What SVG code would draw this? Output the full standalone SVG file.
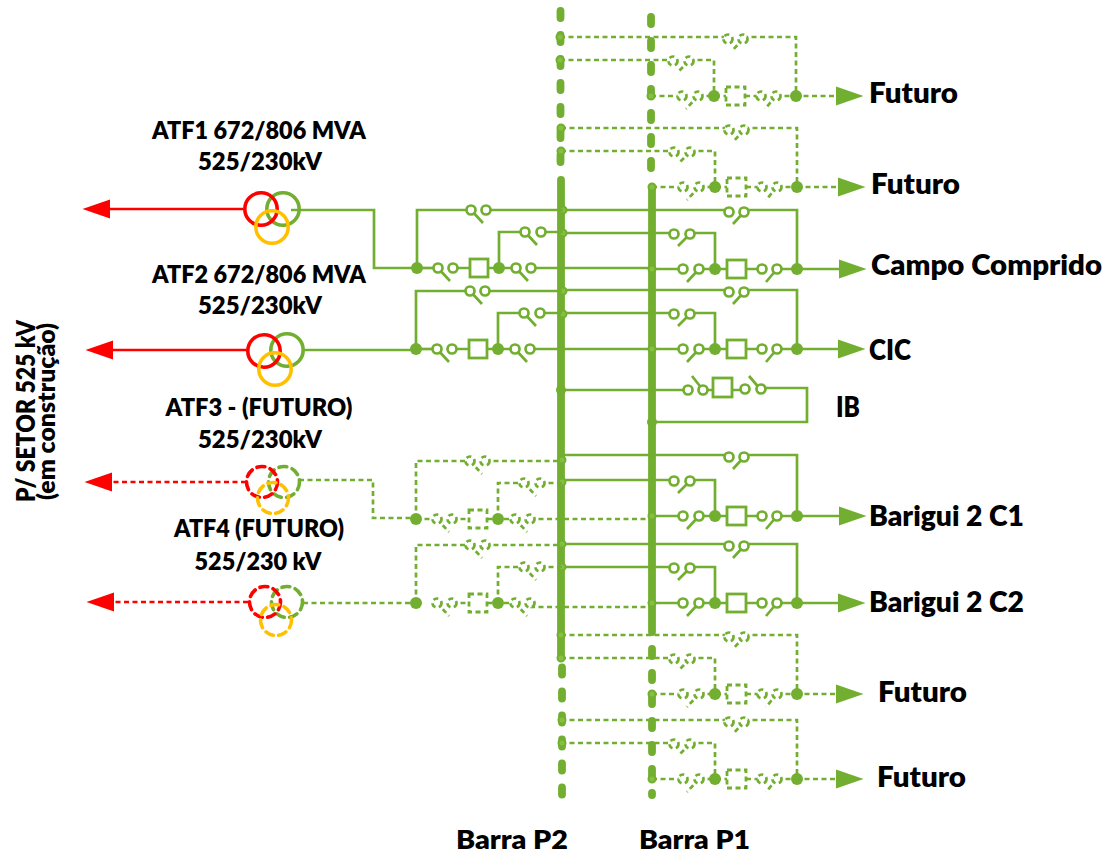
<svg xmlns="http://www.w3.org/2000/svg" width="1108" height="857" viewBox="0 0 1108 857">
<style>
.g{fill:none;stroke:#72ae30;stroke-width:2.7;stroke-linejoin:miter}
.r{fill:none;stroke:#ff0000;stroke-width:2.6}
.d{stroke-dasharray:5 3.5}
.sw{fill:#fff}
.t{fill:#fff;stroke-width:2.8}
.n{fill:#72ae30;stroke:none;stroke-dasharray:none}
.j{fill:#86c040;stroke:#72ae30;stroke-width:2;stroke-dasharray:none}
.bar{fill:none;stroke:#72ae30;stroke-width:7.8;stroke-linecap:round}
.bd{stroke-dasharray:7 17}
.c{fill:none;stroke-width:3.6}
.cr{stroke:#ff0000}.cg{stroke:#72ae30}.cy{stroke:#ffc000}
.cd{stroke-dasharray:8 5.5;stroke-linecap:round}
text{font-family:"Lato","Liberation Sans",sans-serif;font-weight:800;fill:#000}
.a{font-size:25px;text-anchor:middle}
.b{font-size:29px}
</style>
<defs>
<marker id="ag" markerUnits="userSpaceOnUse" markerWidth="30" markerHeight="22" refX="0" refY="11" orient="auto"><path d="M0 1.500L27.500 11L0 20.500Z" fill="#72ae30"/></marker>
<marker id="ar" markerUnits="userSpaceOnUse" markerWidth="30" markerHeight="22" refX="0" refY="11" orient="auto"><path d="M0 1.500L27.500 11L0 20.500Z" fill="#ff0000"/></marker>
<g id="rU"><path d="M-91-59H77M92-59H145V0M92-57L81-45"/><circle class="sw" cx="77" cy="-57" r="4.500"/><circle class="sw" cx="92" cy="-57" r="4.500"/></g>
<g id="rS"><path d="M-91-36H22M38-36H63V0M38-35L26-23"/><circle class="sw" cx="22" cy="-35" r="4.500"/><circle class="sw" cx="38" cy="-35" r="4.500"/></g>
<g id="rM"><path d="M0 0H31M47 0H75M94 0H110M125 0H145M47 0L35 13M125 0L114 13"/><circle class="sw" cx="31" cy="0" r="4.500"/><circle class="sw" cx="47" cy="0" r="4.500"/><rect class="t" x="75" y="-9" width="19" height="18"/><circle class="sw" cx="110" cy="0" r="4.500"/><circle class="sw" cx="125" cy="0" r="4.500"/><circle class="n" cx="63" cy="0" r="6"/><circle class="n" cx="145" cy="0" r="6"/></g>
<g id="lU"><path d="M0 0V-58H54M69-58H146M54-58L66-45"/><circle class="sw" cx="54" cy="-58" r="4.500"/><circle class="sw" cx="69" cy="-58" r="4.500"/></g>
<g id="lS"><path d="M82 0V-36H108M124-36H146M108-36L120-23"/><circle class="sw" cx="108" cy="-36" r="4.500"/><circle class="sw" cx="124" cy="-36" r="4.500"/></g>
<g id="lM"><path d="M36 0H53M71 0H99M21 0L33 13M99 0L111 13"/><circle class="sw" cx="21" cy="0" r="4.500"/><circle class="sw" cx="36" cy="0" r="4.500"/><rect class="t" x="53" y="-9" width="18" height="18"/><circle class="sw" cx="99" cy="0" r="4.500"/><circle class="sw" cx="114" cy="0" r="4.500"/><circle class="n" cx="0" cy="0" r="6"/><circle class="n" cx="82" cy="0" r="6"/></g>
</defs>

<g id="connectors">
<line class="bar bd" x1="560.500" y1="11" x2="560.500" y2="172"/>
<line class="bar" x1="561" y1="180" x2="561" y2="655"/>
<line class="bar bd" x1="562" y1="667.500" x2="562" y2="795"/>
<line class="bar bd" x1="651" y1="17" x2="651" y2="180"/>
<line class="bar" x1="652" y1="188" x2="652" y2="632"/>
<line class="bar bd" x1="652" y1="649" x2="652" y2="795"/>

<path class="r" d="M243 209H110" marker-end="url(#ar)"/>
<path class="r" d="M247 350H113" marker-end="url(#ar)"/>
<path class="r d" d="M246 482H112" marker-end="url(#ar)"/>
<path class="r d" d="M248 602H114" marker-end="url(#ar)"/>

<path class="g" d="M291 210H374V268H417"/>
<path class="g" d="M304 350H416"/>
<path class="g d" d="M299 480H373V518H416"/>
<path class="g d" d="M303 603H416"/>

<path class="g" d="M531 268H652M531 349H652"/>
<path class="g d" d="M530 519H652M530 607H652"/>

<path class="g" d="M797 269H839" marker-end="url(#ag)"/>
<path class="g" d="M797 349H838" marker-end="url(#ag)"/>
<path class="g" d="M798 516H839" marker-end="url(#ag)"/>
<path class="g" d="M797 603H838" marker-end="url(#ag)"/>
<path class="g d" d="M795 96H836" marker-end="url(#ag)"/>
<path class="g d" d="M797 187H838" marker-end="url(#ag)"/>
<path class="g d" d="M796 694H836" marker-end="url(#ag)"/>
<path class="g d" d="M796 779H836" marker-end="url(#ag)"/>
<path class="g" d="M561 390H688M703 390H713M732 390H745M761 388H807V422H652"/>
</g>

<g id="ATF1"><circle class="c cg" cx="283" cy="209" r="16.200"/><circle class="c cr" cx="261" cy="209" r="16.200"/><circle class="c cy" cx="272" cy="227" r="16.200"/></g>
<g id="ATF2"><circle class="c cg" cx="287" cy="350" r="16.200"/><circle class="c cr" cx="264" cy="351" r="16.200"/><circle class="c cy" cx="275" cy="369" r="16.200"/></g>
<g id="ATF3"><circle class="c cg cd" cx="284" cy="482" r="15.500"/><circle class="c cr cd" cx="262" cy="482" r="15.500"/><circle class="c cy cd" cx="273" cy="498" r="15.500"/></g>
<g id="ATF4"><circle class="c cg cd" cx="287" cy="602" r="15.500"/><circle class="c cr cd" cx="265" cy="602" r="15.500"/><circle class="c cy cd" cx="276" cy="620" r="15.500"/></g>

<g id="bay-futuro-1" class="g d" transform="translate(651 96)"><use href="#rU"/><use href="#rS"/><use href="#rM"/><circle class="j" cx="0" cy="0" r="3.500"/><circle class="j" cx="-91" cy="-59" r="3.500"/><circle class="j" cx="-91" cy="-36" r="3.500"/></g>
<g id="bay-futuro-2" class="g d" transform="translate(652 187)"><use href="#rU"/><use href="#rS"/><use href="#rM"/><circle class="j" cx="0" cy="0" r="3.500"/><circle class="j" cx="-91" cy="-59" r="3.500"/><circle class="j" cx="-91" cy="-36" r="3.500"/></g>
<g id="bay-campo-comprido" class="g" transform="translate(652 269)"><use href="#rU"/><use href="#rS"/><use href="#rM"/><circle class="j" cx="0" cy="0" r="3.500"/><circle class="j" cx="-89" cy="-59" r="3.500"/><circle class="j" cx="-89" cy="-36" r="3.500"/></g>
<g id="bay-cic" class="g" transform="translate(652 349)"><use href="#rU"/><use href="#rS"/><use href="#rM"/><circle class="j" cx="0" cy="0" r="3.500"/><circle class="j" cx="-89" cy="-58" r="3.500"/><circle class="j" cx="-89" cy="-35" r="3.500"/></g>
<g id="bay-barigui-c1" class="g" transform="translate(652 516)"><use href="#rU" y="-2"/><use href="#rS"/><use href="#rM"/><circle class="j" cx="0" cy="0" r="3.500"/><circle class="j" cx="-90" cy="-56" r="3.500"/><circle class="j" cx="-90" cy="-34" r="3.500"/></g>
<g id="bay-barigui-c2" class="g" transform="translate(652 603)"><use href="#rU"/><use href="#rS"/><use href="#rM"/><circle class="j" cx="0" cy="0" r="3.500"/><circle class="j" cx="-90" cy="-59" r="3.500"/><circle class="j" cx="-90" cy="-36" r="3.500"/></g>
<g id="bay-futuro-3" class="g d" transform="translate(652 694)"><use href="#rU"/><use href="#rS"/><use href="#rM"/><circle class="j" cx="0" cy="0" r="3.500"/><circle class="j" cx="-91" cy="-59" r="3.500"/><circle class="j" cx="-91" cy="-36" r="3.500"/></g>
<g id="bay-futuro-4" class="g d" transform="translate(652 779)"><use href="#rU"/><use href="#rS"/><use href="#rM"/><circle class="j" cx="0" cy="0" r="3.500"/><circle class="j" cx="-90" cy="-59" r="3.500"/><circle class="j" cx="-90" cy="-36" r="3.500"/></g>

<g id="bay-atf1" class="g" transform="translate(417 268)"><path d="M0 0H21"/><use href="#lU"/><use href="#lS"/><use href="#lM"/></g>
<g id="bay-atf2" class="g" transform="translate(416 349)"><path d="M0 0H21"/><use href="#lU"/><use href="#lS"/><use href="#lM"/></g>
<g id="bay-atf3" class="g d" transform="translate(416 519)"><path d="M0 0H21"/><use href="#lU"/><use href="#lS"/><use href="#lM"/></g>
<g id="bay-atf4" class="g d" transform="translate(416 603)"><use href="#lU"/><use href="#lS"/><use href="#lM"/></g>

<g id="bay-ib" class="g"><circle class="n" cx="561" cy="390" r="5"/><circle class="n" cx="652" cy="422" r="5"/><path d="M703 390L692 376M761 390L749 376"/><circle class="sw" cx="688" cy="390" r="4.500"/><circle class="sw" cx="703" cy="390" r="4.500"/><rect class="t" x="713" y="378" width="19" height="19"/><circle class="sw" cx="745" cy="389" r="4.500"/><circle class="sw" cx="761" cy="389" r="4.500"/></g>

<g id="labels">
<text class="a" x="259" y="139" textLength="214" lengthAdjust="spacingAndGlyphs">ATF1 672/806 MVA</text>
<text class="a" x="260" y="170" textLength="124" lengthAdjust="spacingAndGlyphs">525/230kV</text>
<text class="a" x="259" y="283" textLength="214" lengthAdjust="spacingAndGlyphs">ATF2 672/806 MVA</text>
<text class="a" x="260" y="314" textLength="124" lengthAdjust="spacingAndGlyphs">525/230kV</text>
<text class="a" x="259" y="416" textLength="187" lengthAdjust="spacingAndGlyphs">ATF3 - (FUTURO)</text>
<text class="a" x="260" y="448" textLength="124" lengthAdjust="spacingAndGlyphs">525/230kV</text>
<text class="a" x="259" y="537" textLength="170" lengthAdjust="spacingAndGlyphs">ATF4 (FUTURO)</text>
<text class="a" x="258" y="570" textLength="127" lengthAdjust="spacingAndGlyphs">525/230 kV</text>
<text class="b" x="869" y="103" textLength="89" lengthAdjust="spacingAndGlyphs">Futuro</text>
<text class="b" x="871" y="194" textLength="89" lengthAdjust="spacingAndGlyphs">Futuro</text>
<text class="b" x="871" y="275" textLength="231" lengthAdjust="spacingAndGlyphs">Campo Comprido</text>
<text class="b" x="869" y="360" textLength="42" lengthAdjust="spacingAndGlyphs">CIC</text>
<text class="b" x="836" y="417" textLength="24" lengthAdjust="spacingAndGlyphs">IB</text>
<text class="b" x="869" y="526" textLength="155" lengthAdjust="spacingAndGlyphs">Barigui 2 C1</text>
<text class="b" x="869" y="612" textLength="155" lengthAdjust="spacingAndGlyphs">Barigui 2 C2</text>
<text class="b" x="878" y="702" textLength="89" lengthAdjust="spacingAndGlyphs">Futuro</text>
<text class="b" x="877" y="787" textLength="89" lengthAdjust="spacingAndGlyphs">Futuro</text>
<text class="b" x="456" y="849" textLength="112" lengthAdjust="spacingAndGlyphs" style="font-size:27px">Barra P2</text>
<text class="b" x="639" y="849" textLength="111" lengthAdjust="spacingAndGlyphs" style="font-size:27px">Barra P1</text>
<text transform="translate(35 502) rotate(-90)" style="font-size:27px" textLength="182" lengthAdjust="spacingAndGlyphs">P/ SETOR 525 kV</text>
<text transform="translate(55 500) rotate(-90)" style="font-size:25px" textLength="177" lengthAdjust="spacingAndGlyphs">(em construção)</text>
</g>
</svg>
